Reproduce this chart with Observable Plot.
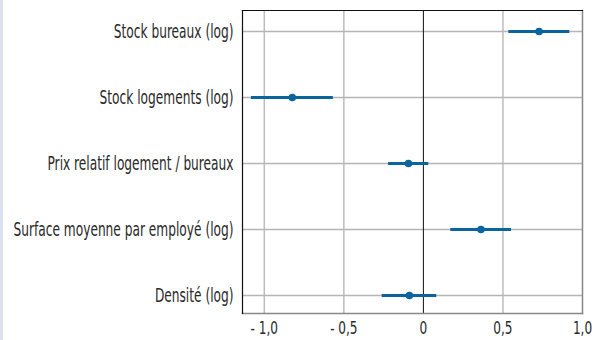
<!DOCTYPE html>
<html>
<head>
<meta charset="utf-8">
<script src="https://cdn.jsdelivr.net/npm/d3@7"></script>
<script src="https://cdn.jsdelivr.net/npm/@observablehq/plot@0.6"></script>
<style>
  html, body { margin: 0; padding: 0; background: #fff; }
  #wrap { position: relative; width: 601px; height: 340px; }
  #strip { position: absolute; left: 0; top: 0; width: 3px; height: 340px; background: #dce0f1; }
</style>
</head>
<body>
<div id="wrap"><div id="strip"></div><div id="chart"></div></div>
<script>
const categories = [
  "Stock bureaux (log)",
  "Stock logements (log)",
  "Prix relatif logement / bureaux",
  "Surface moyenne par employé (log)",
  "Densité (log)"
];
const estimates = [0.727, -0.824, -0.094, 0.362, -0.088];
const lower = [0.537, -1.081, -0.219, 0.172, -0.259];
const upper = [0.92, -0.566, 0.034, 0.554, 0.084];
const xTicks = [-1, -0.5, 0, 0.5, 1];

const rows = categories.map((c, i) => ({cat: c, est: estimates[i], lo: lower[i], hi: upper[i]}));

const fmt = d => d === 0 ? "0" : (d < 0 ? "- " : "") + Math.abs(d).toFixed(1).replace(".", ",");
const blue = "#0a659f";

const chart = Plot.plot({
  width: 601,
  height: 340,
  marginLeft: 242,
  marginRight: 19,
  marginTop: 10,
  marginBottom: 27,
  style: {fontFamily: "'DejaVu Sans Condensed', 'DejaVu Sans', sans-serif", fontSize: "20px", color: "#2a2a2a", background: "transparent"},
  x: {domain: [-1.137, 1.0], label: null},
  y: {type: "point", domain: categories, range: [30, 296], padding: 0, label: null},
  marks: [
    Plot.ruleX(xTicks.filter(d => d !== 0 && d !== 1), {stroke: "#bdbdbd", strokeWidth: 1.5}),
    Plot.ruleY(categories, {y: d => d, stroke: "#b5b5b5", strokeWidth: 1.3}),
    Plot.ruleX([0], {stroke: "#111", strokeWidth: 1}),
    Plot.ruleY(rows, {y: "cat", x1: "lo", x2: "hi", stroke: blue, strokeWidth: 3}),
    Plot.dot(rows, {y: "cat", x: "est", r: 3.8, fill: blue, stroke: "none"}),
    Plot.axisX({ticks: xTicks, tickFormat: fmt, tickSize: 0, tickPadding: 8, fontSize: 18}),
    Plot.axisY({tickSize: 0, tickPadding: 9, fontSize: 20}),
    Plot.frame({anchor: "right", stroke: "#888", strokeWidth: 1.5}),
    Plot.frame({anchor: "bottom", stroke: "#888", strokeWidth: 1.5}),
    Plot.frame({anchor: "top", stroke: "#111", strokeWidth: 1.2}),
    Plot.frame({anchor: "left", stroke: "#111", strokeWidth: 1.2})
  ]
});
document.getElementById("chart").appendChild(chart);

// condense glyphs horizontally to mimic the condensed typeface of the original
const ytexts = Array.from(chart.querySelectorAll("g[aria-label='y-axis tick label'] text"));
const xtexts = Array.from(chart.querySelectorAll("g[aria-label='x-axis tick label'] text"));
const ref = ytexts.find(t => t.textContent.startsWith("Surface"));
const factor = ref ? 220 / ref.getComputedTextLength() : 0.7;
[...ytexts, ...xtexts].forEach(t => {
  const L = t.getComputedTextLength();
  t.setAttribute("textLength", (L * factor * (xtexts.includes(t) ? 1.1 : 1)).toFixed(1));
  t.setAttribute("lengthAdjust", "spacingAndGlyphs");
});
</script>
</body>
</html>
